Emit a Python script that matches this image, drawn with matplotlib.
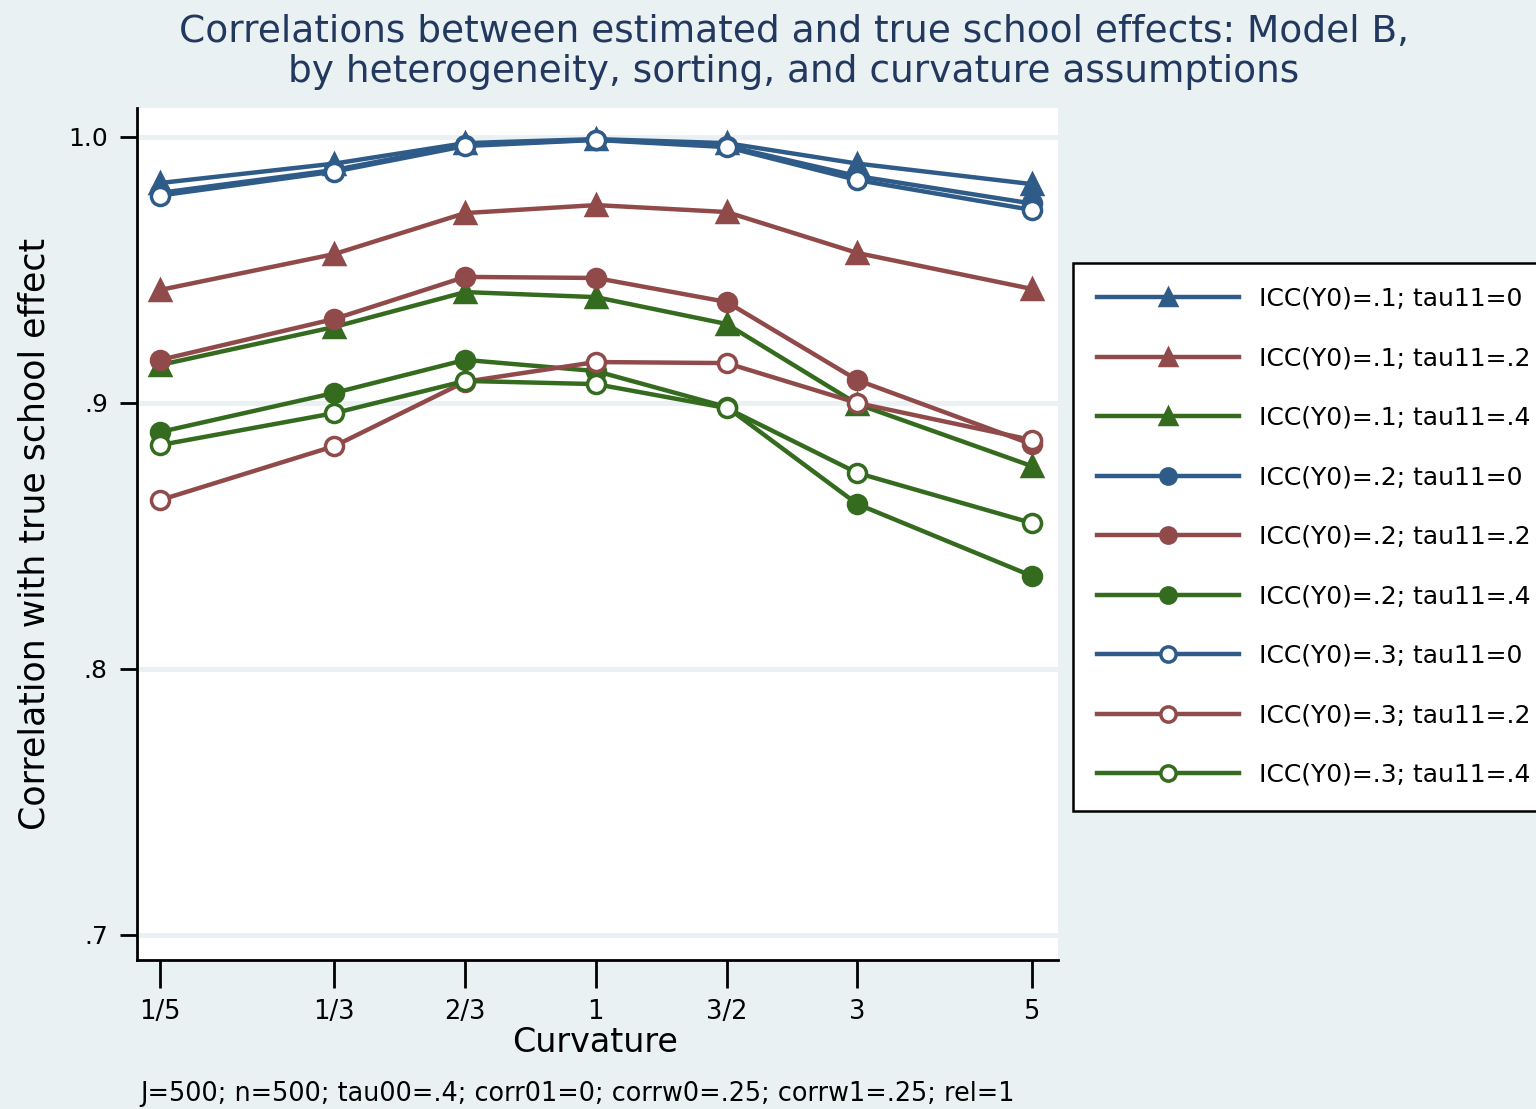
import matplotlib
matplotlib.use("Agg")
import matplotlib.pyplot as plt
from matplotlib.lines import Line2D

# curvature categories and where Stata placed them on the x axis
curv_labels = ["1/5", "1/3", "2/3", "1", "3/2", "3", "5"]
curv_pos = [-10/3, -2, -1, 0, 1, 2, 10/3]

series_names = [
    "ICC(Y0)=.1; tau11=0", "ICC(Y0)=.1; tau11=.2", "ICC(Y0)=.1; tau11=.4",
    "ICC(Y0)=.2; tau11=0", "ICC(Y0)=.2; tau11=.2", "ICC(Y0)=.2; tau11=.4",
    "ICC(Y0)=.3; tau11=0", "ICC(Y0)=.3; tau11=.2", "ICC(Y0)=.3; tau11=.4",
]

icc1_tau0 = [0.9827, 0.9900, 0.9977, 0.9992, 0.9977, 0.9900, 0.9823]
icc1_tau2 = [0.9425, 0.9560, 0.9714, 0.9744, 0.9718, 0.9564, 0.9429]
icc1_tau4 = [0.9143, 0.9286, 0.9417, 0.9398, 0.9297, 0.8996, 0.8763]
icc2_tau0 = [0.9790, 0.9876, 0.9970, 0.9990, 0.9966, 0.9853, 0.9750]
icc2_tau2 = [0.9162, 0.9316, 0.9474, 0.9470, 0.9380, 0.9086, 0.8845]
icc2_tau4 = [0.8891, 0.9038, 0.9162, 0.9120, 0.8985, 0.8620, 0.8350]
icc3_tau0 = [0.9780, 0.9870, 0.9966, 0.9989, 0.9962, 0.9838, 0.9726]
icc3_tau2 = [0.8635, 0.8838, 0.9080, 0.9154, 0.9150, 0.9000, 0.8861]
icc3_tau4 = [0.8842, 0.8962, 0.9083, 0.9071, 0.8981, 0.8737, 0.8549]

all_series = [icc1_tau0, icc1_tau2, icc1_tau4,
              icc2_tau0, icc2_tau2, icc2_tau4,
              icc3_tau0, icc3_tau2, icc3_tau4]

blue = "#2f5b88"
red = "#904a49"
green = "#346b1f"
bg = "#eaf1f2"
colors = [blue, red, green] * 3
markers = ["^"] * 3 + ["o"] * 3 + ["o"] * 3
hollow = [False] * 6 + [True] * 3

plt.rcParams["font.family"] = ["DejaVu Sans"]

fig = plt.figure(figsize=(15.36, 11.09), dpi=100, facecolor=bg)
ax = fig.add_axes([137/1536, 1 - 960/1109, (1058 - 137)/1536, (960 - 108)/1109])
ax.set_facecolor("white")

handles = []
for ys, c, m, h, name in zip(all_series, colors, markers, hollow, series_names):
    mfc = "white" if h else c
    ax.plot(curv_pos, ys, color=c, lw=3.2, marker=m, ms=14 if m == "^" else 13,
            mfc=mfc, mec=c, mew=2.5, zorder=3)
    handles.append(Line2D([], [], color=c, lw=3.2, marker=m, ms=12 if m == "^" else 11,
                          mfc=mfc, mec=c, mew=2.5, label=name))

ax.set_xlim(-3.51, 3.535)
ax.set_ylim(0.6906, 1.0109)
ax.set_xticks(curv_pos)
ax.set_xticklabels(curv_labels)
ax.set_yticks([0.7, 0.8, 0.9, 1.0])
ax.set_yticklabels([".7", ".8", ".9", "1.0"])
ax.yaxis.grid(True, color=bg, lw=3.5, zorder=0)
ax.set_axisbelow(True)

for s in ["top", "right"]:
    ax.spines[s].set_visible(False)
for s in ["left", "bottom"]:
    ax.spines[s].set_linewidth(2)
    ax.spines[s].set_color("black")

ax.tick_params(axis="x", length=20, width=2, pad=8, labelsize=18.5, colors="black")
ax.tick_params(axis="y", length=12, width=2, pad=9, labelsize=18, colors="black")

ax.set_xlabel("Curvature", fontsize=24)
ax.xaxis.set_label_coords(0.497, -(1042 - 960) / 852)
ax.xaxis.label.set_va("center")
ax.set_ylabel("Correlation with true school effect", fontsize=25)
ax.yaxis.set_label_coords(-(137 - 35) / 921, 0.5)
ax.yaxis.label.set_va("center")

fig.text(794/1536, 1 - 52/1109,
         "Correlations between estimated and true school effects: Model B,\n"
         "by heterogeneity, sorting, and curvature assumptions",
         ha="center", va="center", fontsize=27, color="#22385e", linespacing=1.15)

fig.text(140/1536, 1 - 1094/1109,
         "J=500; n=500; tau00=.4; corr01=0; corrw0=.25; corrw1=.25; rel=1",
         ha="left", va="center", fontsize=18.4)

leg = fig.legend(handles=handles, loc="upper left",
                 bbox_to_anchor=(1073/1536, 1 - 263/1109),
                 fontsize=18, handlelength=5.7, handletextpad=0.8,
                 labelspacing=1.42, borderpad=0.95, borderaxespad=0,
                 fancybox=False, framealpha=1, edgecolor="black")
leg.get_frame().set_linewidth(1.8)

fig.savefig("out.png", dpi=100, facecolor=bg)
